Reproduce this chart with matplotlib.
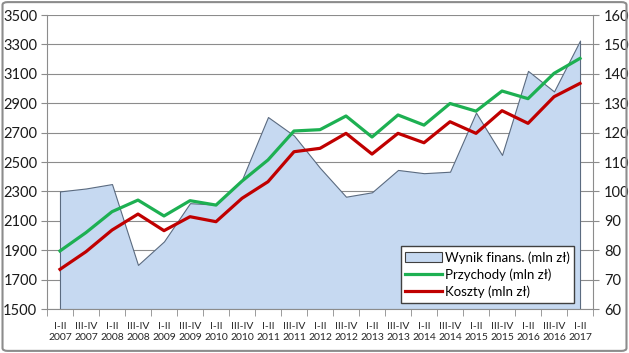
import matplotlib
matplotlib.use('Agg')

import matplotlib.pyplot as plt
from matplotlib.patches import FancyBboxPatch, Patch
from matplotlib.lines import Line2D
import numpy as np

# data
periods = ["I-II", "III-IV"] * 10 + ["I-II"]
years = [2007, 2007, 2008, 2008, 2009, 2009, 2010, 2010, 2011, 2011, 2012,
         2012, 2013, 2013, 2014, 2014, 2015, 2015, 2016, 2016, 2017]
wynik = [100, 101, 102.5, 75, 83, 96, 95.5, 104, 125.3, 119, 108,
         98.2, 99.7, 107.3, 106.2, 106.7, 126.8, 112.4, 141, 134, 151.3]
przychody = [1895, 2020, 2162, 2241, 2133, 2237, 2207, 2370, 2514, 2711, 2720,
             2813, 2670, 2820, 2751, 2898, 2846, 2983, 2931, 3103, 3205]
koszty = [1770, 1890, 2037, 2146, 2033, 2128, 2094, 2253, 2366, 2570, 2593,
          2695, 2554, 2695, 2631, 2774, 2695, 2849, 2763, 2944, 3035]

labels = [f"{p}\n{y}" for p, y in zip(periods, years)]
x = np.arange(len(labels))

plt.rcParams['font.family'] = ['Lato', 'DejaVu Sans']

fig = plt.figure(figsize=(6.29, 3.53), dpi=100)
fig.patches.append(FancyBboxPatch((0.004, 0.006), 0.992, 0.988,
                                  boxstyle="round,pad=0,rounding_size=0.008",
                                  transform=fig.transFigure, fill=False,
                                  edgecolor='#8c8c8c', linewidth=1.5))

ax = fig.add_axes([0.0747, 0.1246, 0.8681, 0.8329])  # lines, left scale
ax2 = ax.twinx()                                      # area, right scale
ax.set_zorder(ax2.get_zorder() + 1)
ax.patch.set_visible(False)

grid_c = '#8c8c8c'
ax2.fill_between(x, 60, wynik, facecolor='#c6d9f1', edgecolor='#5b6b80',
                 linewidth=0.8, zorder=2)
ax2.set_ylim(60, 160)
ax2.set_yticks(np.arange(60, 161, 10))
ax2.grid(axis='y', color=grid_c, linewidth=0.8, zorder=0)
ax2.set_axisbelow(True)

ax.plot(x, przychody, color='#1db052', linewidth=2.3)
ax.plot(x, koszty, color='#c00000', linewidth=2.3)
ax.set_ylim(1500, 3500)
ax.set_yticks(np.arange(1500, 3501, 200))

for a in (ax, ax2):
    a.set_xlim(-0.5, len(x) - 0.5)
    for s in a.spines.values():
        s.set_visible(False)

ax.spines['left'].set_visible(True)
ax.spines['left'].set_color(grid_c)
ax.spines['bottom'].set_visible(True)
ax.spines['bottom'].set_color(grid_c)
ax2.spines['right'].set_visible(True)
ax2.spines['right'].set_color(grid_c)

ax.tick_params(axis='y', length=4, color=grid_c, labelsize=10.5, pad=3,
               labelcolor='#1a1a1a')
ax2.tick_params(axis='y', length=4, color=grid_c, labelsize=10.5, pad=4,
                labelcolor='#1a1a1a')

ax.set_xticks(x)
ax.set_xticklabels(labels, fontsize=7.5, color='#262626', linespacing=1.3)
ax.set_xticks(np.arange(-0.5, len(x), 1), minor=True)
ax.tick_params(axis='x', which='major', length=0, pad=9)
ax.tick_params(axis='x', which='minor', length=5, color=grid_c)

handles = [Patch(facecolor='#c6d9f1', edgecolor='#404040', linewidth=0.8),
           Line2D([], [], color='#1db052', linewidth=2.3),
           Line2D([], [], color='#c00000', linewidth=2.3)]
leg = ax.legend(handles, ["Wynik finans. (mln zł)", "Przychody (mln zł)",
                          "Koszty (mln zł)"],
                loc='lower right', bbox_to_anchor=(0.966, 0.022),
                fontsize=9.5, frameon=True, fancybox=False,
                handlelength=2.8, handletextpad=0.2, labelspacing=0.35,
                borderpad=0.35, borderaxespad=0)
leg.get_frame().set_edgecolor('#404040')
leg.get_frame().set_linewidth(1.0)
leg.get_frame().set_facecolor('white')
leg.get_frame().set_alpha(1)

plt.savefig("out.png", dpi=100)
plt.close()
